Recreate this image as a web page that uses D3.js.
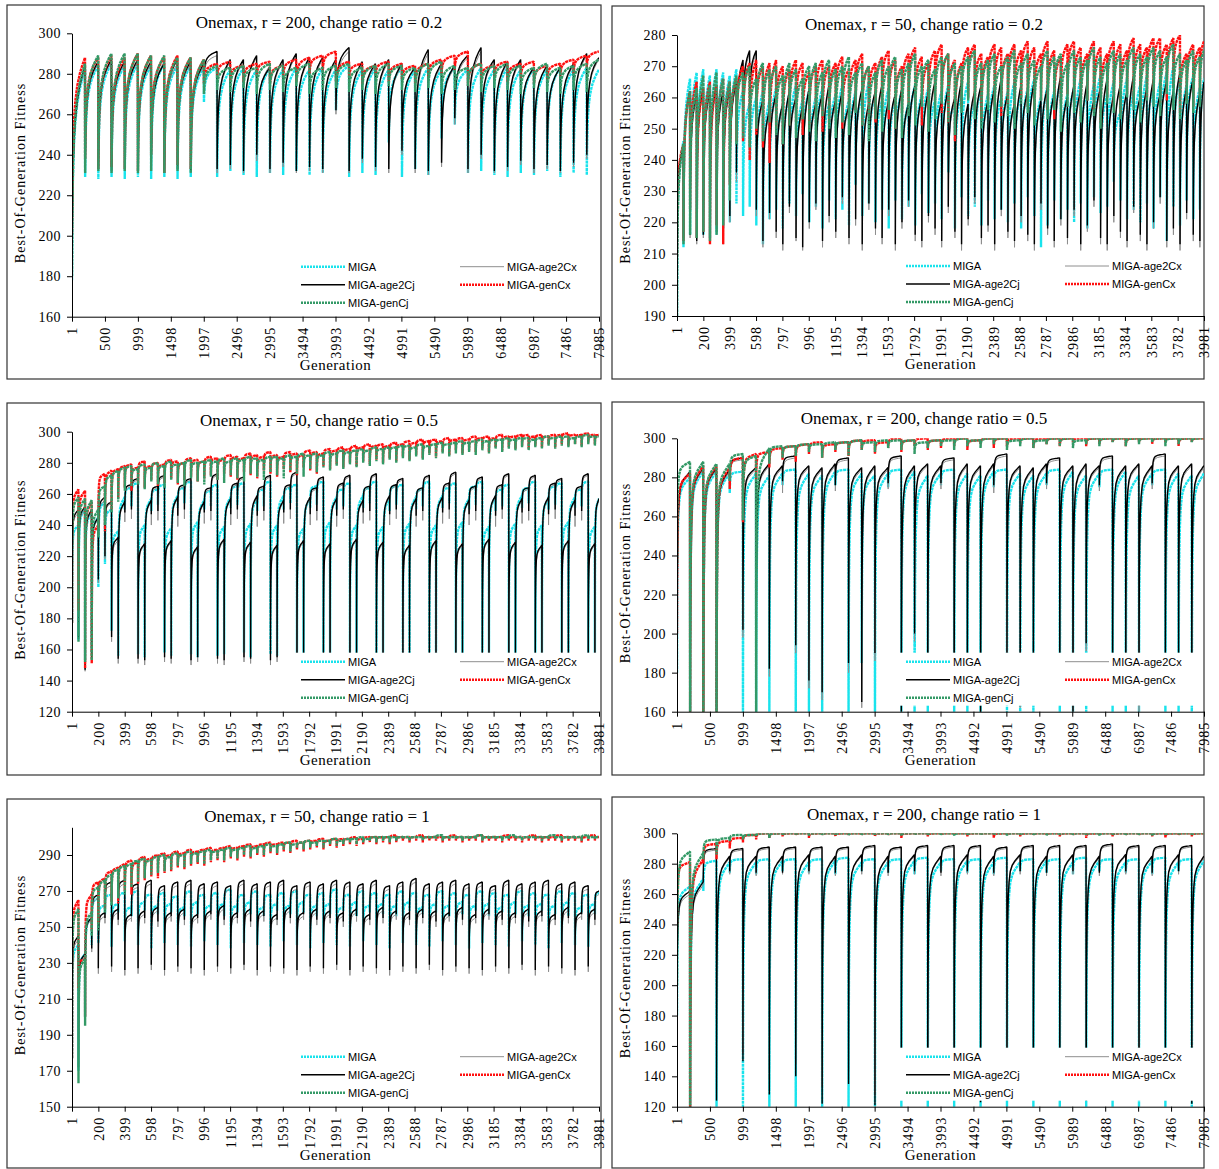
<!DOCTYPE html>
<html>
<head>
<meta charset="utf-8">
<script src="https://cdn.jsdelivr.net/npm/d3@7"></script>
<style>
html,body{margin:0;padding:0;background:#fff;}
svg{display:block;}
</style>
</head>
<body>
<svg id="fig" width="1219" height="1169"></svg>
<script>
// ---------------------------------------------------------------------------
// Best-of-generation fitness on Onemax.  Every environment change (each r
// generations) is one cycle: [fitness right after the change, fitness just
// before the next change].  Series order: MIGA, MIGA-age2Cx, MIGA-age2Cj,
// MIGA-genCx, MIGA-genCj.
// ---------------------------------------------------------------------------
const seriesNames = ["MIGA", "MIGA-age2Cx", "MIGA-age2Cj", "MIGA-genCx", "MIGA-genCj"];

// Shape of the recovery after a change: fraction of the cycle elapsed and
// fraction of the way from the post-change value to the pre-change value.
const recoveryStep      = [0, 0.01, 0.03, 0.06, 0.10, 0.16, 0.25, 0.40, 0.60, 0.80, 0.99];
const recoveryLevelFast = [0, 0.30, 0.55, 0.70, 0.80, 0.87, 0.92, 0.95, 0.97, 0.985, 1];
const recoveryLevelSlow = [0, 0.12, 0.30, 0.45, 0.56, 0.66, 0.75, 0.84, 0.91, 0.96, 1];

const genTicks200 = [1,500,999,1498,1997,2496,2995,3494,3993,4492,4991,5490,5989,6488,6987,7486,7985];
const genTicks50 = [1,200,399,598,797,996,1195,1394,1593,1792,1991,2190,2389,2588,2787,2986,3185,3384,3583,3782,3981];
const fitness160to300 = [160,180,200,220,240,260,280,300];
const fitness190to280 = [190,200,210,220,230,240,250,260,270,280];
const fitness120to300 = [120,140,160,180,200,220,240,260,280,300];
const fitness150to290 = [150,170,190,210,230,250,270,290];

// ---- r = 200, change ratio = 0.2 ----
const r200c02_MIGA = [
[178,282],[229,284],[228,285],[229,284],[228,285],[229,284],[228,285],[229,284],[228,284],[229,283],
[266,283],[229,282],[232,283],[230,282],[229,283],[231,282],[230,283],[232,282],[230,283],[231,282],
[262,284],[229,282],[231,283],[230,282],[246,283],[229,282],[233,283],[230,282],[248,283],[255,282],
[231,283],[232,282],[230,283],[229,282],[231,283],[230,282],[232,283],[229,282],[231,283],[230,282]];
const r200c02_age2Cx = [
[177,283],[231,285],[232,286],[231,285],[232,286],[231,285],[232,286],[231,285],[232,285],[231,284],
[276,289],[231,286],[233,286],[231,288],[237,284],[231,286],[234,289],[231,287],[232,287],[231,286],
[260,291],[231,285],[236,284],[232,286],[231,284],[240,283],[231,290],[230,284],[234,283],[255,288],
[231,291],[238,286],[231,285],[232,286],[235,283],[231,284],[233,283],[231,284],[234,289],[238,287]];
const r200c02_age2Cj = [
[177,284],[232,286],[233,287],[232,286],[233,287],[232,286],[233,285],[232,287],[233,286],[232,285],
[278,291],[233,287],[235,287],[232,289],[240,283],[233,287],[236,290],[232,288],[234,288],[233,287],
[262,293],[232,286],[238,285],[234,287],[233,285],[242,283],[233,292],[232,285],[236,284],[258,289],
[233,293],[240,287],[232,286],[234,287],[237,283],[233,284],[235,283],[232,285],[236,290],[240,288]];
const r200c02_genCx = [
[201,288],[238,288],[233,289],[234,288],[233,290],[232,289],[240,288],[231,289],[235,288],[233,287],
[275,285],[278,286],[277,284],[276,285],[279,286],[275,284],[278,287],[276,288],[280,289],[281,291],
[276,286],[278,285],[275,284],[279,286],[276,285],[277,284],[275,285],[278,287],[280,289],[282,291],
[274,285],[277,284],[279,286],[276,285],[278,286],[275,284],[277,285],[279,287],[280,289],[283,291]];
const r200c02_genCj = [
[180,285],[231,289],[232,290],[231,290],[232,290],[231,289],[232,289],[231,288],[232,288],[231,287],
[270,284],[272,283],[271,284],[273,283],[270,285],[272,284],[271,283],[274,285],[270,283],[272,284],
[273,285],[271,283],[272,284],[270,285],[274,284],[272,283],[271,285],[273,286],[270,284],[272,283],
[274,285],[271,284],[273,285],[272,284],[270,283],[273,285],[271,283],[270,284],[272,285],[271,287]];

// ---- r = 50, change ratio = 0.2 ----
const r50c02_MIGA = [
[190,246],[212,266],[216,268],[215,269],[216,267],[215,269],[216,268],[218,267],[220,269],[226,262],
[222,258],[225,260],[219,262],[213,259],[221,263],[224,257],[218,261],[226,264],[222,259],[229,262],
[220,260],[225,263],[218,258],[227,261],[221,264],[224,259],[219,262],[232,260],[222,265],[226,261],
[220,259],[224,263],[218,260],[227,262],[221,258],[225,264],[219,261],[229,263],[223,259],[226,262],
[221,264],[236,258],[218,262],[228,265],[222,259],[225,263],[219,261],[227,264],[221,260],[224,262],
[220,265],[226,261],[218,263],[228,266],[222,260],[212,264],[219,262],[227,265],[221,261],[224,263],
[220,266],[226,262],[218,264],[228,267],[223,261],[225,265],[233,255],[227,266],[221,262],[224,264],
[220,267],[226,263],[218,265],[228,268],[214,270],[225,266],[219,264],[227,267],[221,263],[224,266]];
const r50c02_age2Cx = [
[211,243],[214,261],[215,260],[213,262],[215,261],[214,263],[216,261],[213,262],[220,264],[233,271],
[246,274],[250,274],[222,258],[212,255],[221,260],[215,257],[211,261],[223,259],[214,256],[211,262],
[218,257],[224,260],[212,263],[220,258],[215,261],[226,256],[213,260],[219,262],[211,257],[224,261],
[216,263],[213,258],[222,260],[211,262],[218,257],[225,263],[214,259],[212,261],[220,264],[216,258],
[212,262],[223,259],[215,264],[211,257],[219,261],[226,263],[213,258],[217,262],[211,265],[222,260],
[215,257],[212,263],[220,261],[214,264],[211,258],[224,262],[216,260],[212,266],[219,259],[213,263],
[222,261],[211,264],[217,258],[225,262],[213,265],[211,260],[220,263],[215,261],[212,266],[223,259],
[214,262],[211,265],[218,260],[226,264],[212,261],[216,267],[211,262],[221,265],[214,260],[212,264]];
const r50c02_age2Cj = [
[212,244],[215,262],[216,261],[214,263],[216,262],[215,264],[217,262],[214,263],[222,265],[236,272],
[248,275],[252,275],[224,259],[214,256],[223,261],[217,258],[213,262],[225,260],[215,257],[212,263],
[220,258],[226,261],[214,264],[222,259],[217,262],[228,257],[215,261],[221,263],[213,258],[226,262],
[218,264],[215,259],[224,261],[213,263],[220,258],[227,264],[216,260],[214,262],[222,265],[218,259],
[214,263],[225,260],[217,265],[213,258],[221,262],[228,264],[215,259],[219,263],[213,266],[224,261],
[217,258],[214,264],[222,262],[216,265],[213,259],[226,263],[218,261],[214,267],[221,260],[215,264],
[224,262],[213,265],[219,259],[227,263],[215,266],[213,261],[222,264],[217,262],[214,267],[225,260],
[216,263],[213,266],[220,261],[228,265],[214,262],[218,268],[213,263],[223,266],[216,261],[214,265]];
const r50c02_genCx = [
[209,245],[214,262],[224,265],[215,263],[217,265],[213,264],[219,266],[213,265],[232,266],[246,270],
[246,271],[240,272],[248,270],[244,271],[239,272],[250,270],[245,269],[251,272],[252,271],[248,268],
[250,270],[254,272],[249,270],[252,271],[255,273],[250,269],[253,272],[256,274],[251,270],[254,271],
[252,273],[257,275],[253,272],[250,270],[255,274],[258,276],[254,273],[251,271],[256,275],[259,277],
[255,274],[252,272],[246,271],[257,276],[260,277],[256,274],[253,273],[259,277],[257,276],[254,274],
[258,277],[255,275],[260,278],[257,276],[254,274],[259,278],[256,275],[253,273],[258,277],[261,278],
[257,276],[254,274],[259,278],[256,276],[252,274],[260,278],[257,277],[255,275],[261,279],[258,277],
[256,276],[260,279],[262,279],[258,277],[259,279],[263,280],[255,274],[259,277],[257,276],[260,278]];
const r50c02_genCj = [
[190,245],[213,262],[216,263],[215,267],[217,264],[214,268],[216,266],[219,265],[227,267],[245,268],
[247,270],[244,266],[250,271],[246,269],[252,270],[248,267],[245,271],[251,269],[247,266],[253,270],
[249,271],[246,268],[254,272],[250,269],[247,270],[252,273],[248,268],[255,271],[251,270],[246,268],
[253,272],[249,270],[256,273],[250,269],[247,271],[254,274],[251,270],[257,272],[249,269],[253,273],
[258,274],[252,271],[248,270],[255,273],[259,275],[253,271],[250,272],[256,274],[252,270],[257,273],
[254,275],[250,271],[258,274],[255,272],[251,270],[259,275],[253,273],[256,274],[249,271],[257,275],
[255,273],[252,272],[259,276],[254,273],[250,271],[258,275],[255,274],[253,272],[260,276],[256,274],
[252,273],[259,276],[257,275],[254,273],[261,277],[256,274],[253,272],[258,275],[255,273],[257,275]];

// ---- r = 50, change ratio = 0.5 ----
const r50c05_MIGA = [
[178,240],[166,250],[153,248],[158,245],[200,255],[215,250],[172,236],[156,258],[250,264],[252,267],
[157,240],[155,257],[249,263],[253,266],[158,238],[156,259],[251,264],[254,268],[157,242],[155,256],
[250,262],[252,266],[156,239],[157,258],[251,265],[253,267],[158,241],[155,257],[249,263],[252,268],
[157,240],[156,259],[250,264],[254,266],[155,238],[157,257],[251,265],[253,268],[158,242],[156,258],
[250,263],[252,267],[157,240],[155,259],[251,264],[254,268],[156,239],[157,257],[249,265],[253,266],
[158,241],[156,258],[250,263],[252,268],[157,240],[155,259],[251,264],[254,267],[156,242],[157,257],
[250,265],[253,268],[158,239],[155,258],[249,263],[252,266],[157,241],[156,259],[251,264],[254,268],
[155,240],[157,257],[250,265],[253,267],[158,242],[156,258],[251,263],[252,268],[157,239],[155,257]];
const r50c05_age2Cx = [
[177,248],[166,250],[146,249],[152,244],[203,256],[218,254],[165,230],[151,254],[242,265],[244,269],
[151,227],[150,255],[240,264],[243,271],[152,229],[151,257],[239,265],[244,269],[150,225],[152,254],
[241,263],[243,272],[151,230],[150,256],[240,266],[244,270],[152,228],[151,258],[239,264],[243,271],
[150,226],[152,255],[241,265],[244,273],[151,229],[150,257],[240,263],[243,270],[152,227],[151,256],
[239,266],[244,271],[150,230],[152,255],[241,264],[243,272],[151,228],[150,258],[240,265],[244,269],
[152,226],[151,256],[239,263],[243,271],[150,229],[152,257],[241,266],[244,273],[151,227],[150,255],
[240,264],[243,270],[152,230],[151,258],[239,265],[244,272],[150,228],[152,256],[241,263],[243,271],
[151,226],[150,257],[240,266],[244,269],[152,229],[151,255],[239,264],[243,272],[150,227],[152,256]];
const r50c05_age2Cj = [
[177,250],[168,252],[147,250],[155,245],[205,258],[220,255],[168,232],[154,255],[248,266],[250,270],
[154,228],[153,256],[247,265],[249,272],[155,230],[154,258],[246,266],[250,270],[153,226],[155,255],
[248,264],[249,273],[154,231],[153,257],[247,267],[250,271],[155,229],[154,259],[246,265],[249,272],
[153,227],[155,256],[248,266],[250,274],[154,230],[153,258],[247,264],[249,271],[155,228],[154,257],
[246,267],[250,272],[153,231],[155,256],[248,265],[249,273],[154,229],[153,259],[247,266],[250,270],
[155,227],[154,257],[246,264],[249,272],[153,230],[155,258],[248,267],[250,274],[154,228],[153,256],
[247,265],[249,271],[155,231],[154,259],[246,266],[250,273],[153,229],[155,257],[248,264],[249,272],
[154,227],[153,258],[247,267],[250,270],[155,230],[154,256],[246,265],[249,273],[153,228],[155,257]];
const r50c05_genCx = [
[177,263],[185,262],[148,255],[151,240],[238,273],[236,275],[250,276],[257,278],[264,279],[262,277],
[267,281],[264,278],[269,280],[265,279],[267,282],[270,281],[266,280],[269,283],[271,282],[268,281],
[270,284],[272,283],[269,282],[273,285],[271,284],[269,283],[274,286],[272,285],[270,284],[275,287],
[273,285],[271,284],[276,287],[274,286],[272,285],[277,288],[275,287],[273,286],[278,289],[276,288],
[279,290],[277,289],[280,291],[278,290],[281,292],[279,291],[282,292],[280,291],[283,293],[281,292],
[284,294],[282,293],[285,295],[283,294],[286,295],[284,294],[287,296],[285,295],[288,296],[286,295],
[288,297],[287,296],[289,297],[287,296],[290,298],[288,297],[290,297],[289,298],[291,298],[289,297],
[291,298],[290,297],[292,298],[290,298],[292,299],[291,298],[292,298],[291,299],[293,298],[292,298]];
const r50c05_genCj = [
[177,258],[165,257],[152,256],[153,250],[232,265],[240,272],[248,275],[255,277],[262,278],[265,276],
[266,279],[263,277],[268,280],[266,278],[264,281],[269,279],[267,280],[265,282],[270,280],[268,281],
[266,282],[271,281],[269,283],[267,281],[272,283],[270,282],[268,284],[273,283],[271,282],[269,284],
[274,284],[272,283],[270,285],[275,284],[273,286],[271,285],[276,286],[274,285],[277,287],[275,286],
[278,288],[276,287],[279,288],[277,289],[280,288],[278,290],[281,289],[279,290],[282,290],[280,291],
[283,291],[281,290],[284,292],[282,291],[285,292],[283,293],[286,292],[284,293],[286,294],[285,293],
[287,294],[285,295],[288,294],[286,295],[289,295],[287,296],[289,295],[288,296],[290,296],[288,295],
[290,296],[289,297],[291,296],[289,297],[291,297],[290,296],[292,297],[290,298],[292,297],[291,297]];

// ---- r = 200, change ratio = 0.5 ----
const r200c05_MIGA = [
[180,280],[150,283],[150,283],[150,282],[272,283],[150,282],[148,281],[152,282],[276,284],[145,282],
[155,281],[140,283],[276,284],[150,282],[185,281],[145,282],[275,284],[152,283],[140,281],[156,282],
[276,284],[148,282],[150,281],[143,283],[275,284],[155,282],[146,281],[150,282],[276,284],[142,283],
[152,281],[148,282],[275,284],[150,283],[145,281],[155,282],[276,284],[148,282],[152,281],[144,282]];
const r200c05_age2Cx = [
[177,282],[150,284],[150,284],[150,283],[275,289],[198,284],[170,286],[178,285],[272,290],[190,285],
[172,284],[166,286],[273,289],[180,284],[162,285],[186,284],[274,290],[158,285],[196,286],[168,285],
[274,289],[164,286],[176,285],[155,286],[272,291],[186,285],[162,284],[171,286],[274,289],[178,285],
[157,286],[191,285],[273,290],[166,285],[181,286],[160,285],[274,291],[174,285],[186,286],[164,285]];
const r200c05_age2Cj = [
[177,283],[150,285],[150,285],[150,284],[276,290],[202,285],[175,287],[182,286],[278,291],[194,286],
[176,285],[170,287],[276,290],[185,285],[165,286],[190,285],[277,291],[160,286],[200,287],[172,286],
[277,290],[168,287],[180,286],[158,287],[276,292],[190,286],[165,285],[175,287],[277,290],[182,286],
[160,287],[195,286],[276,291],[170,286],[185,287],[163,286],[277,292],[178,286],[190,287],[168,286]];
const r200c05_genCx = [
[200,282],[150,286],[150,286],[150,285],[274,290],[257,292],[279,293],[285,295],[289,296],[288,297],
[292,298],[290,297],[293,298],[291,299],[294,299],[292,298],[295,300],[293,299],[296,300],[294,299],
[295,300],[296,300],[294,299],[297,300],[295,300],[296,300],[298,300],[295,300],[297,300],[296,300],
[298,300],[296,300],[297,300],[298,300],[296,300],[298,300],[297,300],[298,300],[296,300],[298,300]];
const r200c05_genCj = [
[236,288],[150,288],[150,287],[150,287],[278,292],[258,291],[150,295],[287,296],[290,296],[291,297],
[293,297],[290,298],[294,298],[291,299],[294,298],[293,299],[295,299],[294,299],[292,298],[295,299],
[296,299],[294,300],[296,299],[295,300],[297,300],[294,299],[296,300],[295,299],[297,300],[296,300],
[295,299],[297,300],[296,300],[298,300],[296,300],[297,300],[298,300],[296,300],[297,300],[298,300]];

// ---- r = 50, change ratio = 1 ----
const r50c1_MIGA = [
[177,240],[170,235],[200,255],[240,266],[241,262],[257,268],[239,263],[258,269],[242,261],[256,270],
[240,264],[259,268],[238,262],[257,269],[241,263],[258,267],[240,261],[256,270],[239,264],[257,268],
[242,262],[259,269],[240,263],[256,271],[238,262],[258,268],[241,264],[257,270],[240,261],[256,268],
[239,263],[259,269],[242,262],[257,270],[240,264],[258,268],[238,262],[256,269],[241,263],[257,271],
[240,261],[259,268],[239,264],[256,270],[242,262],[258,269],[240,263],[257,268],[238,262],[256,270],
[241,264],[259,269],[240,261],[257,268],[239,263],[258,270],[242,262],[256,269],[240,264],[257,268],
[238,262],[259,270],[241,263],[256,269],[240,261],[258,268],[239,264],[257,270],[242,262],[256,269],
[240,263],[259,268],[238,262],[257,270],[241,264],[256,269],[240,261],[258,268],[239,263],[257,269]];
const r50c1_age2Cx = [
[177,243],[170,234],[203,254],[236,266],[224,256],[252,273],[225,258],[251,274],[223,255],[253,272],
[224,257],[252,274],[226,259],[250,271],[223,256],[253,273],[225,258],[251,274],[224,255],[252,272],
[223,257],[254,273],[225,260],[251,271],[224,256],[252,274],[226,258],[250,272],[223,257],[253,273],
[225,255],[251,274],[224,259],[252,271],[223,256],[254,273],[225,258],[251,272],[224,257],[252,274],
[226,256],[250,273],[223,258],[253,272],[225,255],[251,274],[224,259],[252,271],[223,257],[254,273],
[225,256],[251,275],[224,258],[252,272],[226,257],[250,273],[223,256],[253,274],[225,259],[251,272],
[224,255],[252,273],[223,258],[254,271],[225,257],[251,274],[224,256],[252,272],[226,258],[250,273],
[223,257],[253,274],[225,255],[251,272],[224,259],[252,273],[223,256],[254,271],[225,258],[251,268]];
const r50c1_age2Cj = [
[177,245],[172,235],[205,255],[238,268],[227,258],[255,275],[228,260],[254,276],[226,257],[256,274],
[227,259],[255,276],[229,261],[253,273],[226,258],[256,275],[228,260],[254,276],[227,257],[255,274],
[226,259],[257,275],[228,262],[254,273],[227,258],[255,276],[229,260],[253,274],[226,259],[256,275],
[228,257],[254,276],[227,261],[255,273],[226,258],[257,275],[228,260],[254,274],[227,259],[255,276],
[229,258],[253,275],[226,260],[256,274],[228,257],[254,276],[227,261],[255,273],[226,259],[257,275],
[228,258],[254,277],[227,260],[255,274],[229,259],[253,275],[226,258],[256,276],[228,261],[254,274],
[227,257],[255,275],[226,260],[257,273],[228,259],[254,276],[227,258],[255,274],[229,260],[253,275],
[226,259],[256,276],[228,257],[254,274],[227,261],[255,275],[226,258],[257,273],[228,260],[254,270]];
const r50c1_genCx = [
[177,265],[216,232],[200,268],[248,275],[252,277],[260,281],[264,283],[263,285],[270,287],[268,286],
[274,289],[276,288],[278,290],[277,291],[280,290],[281,292],[283,291],[282,293],[284,292],[285,293],
[284,294],[286,293],[287,294],[286,295],[288,294],[287,295],[289,296],[288,295],[290,296],[289,297],
[291,296],[290,297],[292,297],[291,298],[293,297],[292,298],[293,298],[294,299],[293,298],[295,299],
[294,299],[295,299],[296,300],[295,299],[296,300],[297,300],[296,300],[297,300],[296,301],[297,300],
[298,300],[297,300],[298,301],[297,300],[298,300],[298,300],[297,300],[298,301],[298,300],[297,300],
[298,300],[298,301],[297,300],[298,300],[298,300],[297,301],[298,300],[298,300],[297,300],[298,301],
[298,300],[297,300],[298,300],[298,301],[297,300],[298,300],[298,300],[297,300],[298,301],[298,300]];
const r50c1_genCj = [
[177,260],[163,232],[195,258],[245,272],[248,276],[258,279],[262,282],[266,284],[268,285],[272,287],
[275,288],[277,287],[279,289],[280,290],[281,289],[282,291],[284,290],[283,292],[285,291],[286,292],
[285,293],[287,292],[288,293],[287,294],[289,293],[288,294],[290,295],[289,294],[291,295],[290,296],
[292,295],[291,296],[293,297],[292,296],[294,297],[293,298],[294,297],[295,298],[294,298],[296,299],
[295,298],[296,299],[297,299],[296,300],[297,299],[298,300],[297,300],[298,300],[297,300],[298,300],
[299,300],[298,300],[299,300],[298,300],[299,300],[299,301],[298,300],[299,300],[299,300],[298,300],
[299,300],[299,301],[298,300],[299,300],[299,300],[298,300],[299,301],[299,300],[298,300],[299,300],
[299,300],[298,300],[299,301],[299,300],[298,300],[299,300],[299,300],[298,301],[299,300],[299,300]];

// ---- r = 200, change ratio = 1 ----
const r200c1_MIGA = [
[180,265],[100,270],[262,282],[110,281],[274,283],[112,281],[273,283],[108,282],[275,283],[115,281],
[274,283],[110,282],[273,284],[112,281],[275,283],[108,281],[274,283],[115,282],[273,284],[110,281],
[275,283],[112,282],[274,283],[108,281],[273,284],[115,281],[275,283],[110,282],[274,283],[112,281],
[273,284],[108,282],[275,283],[115,281],[274,283],[110,282],[273,284],[112,281],[275,283],[108,282]];
const r200c1_age2Cx = [
[177,260],[100,266],[273,289],[125,284],[273,289],[155,284],[272,290],[138,284],[273,290],[148,285],
[273,290],[133,284],[272,290],[143,285],[273,291],[128,284],[272,290],[150,285],[273,291],[136,284],
[272,291],[146,285],[273,291],[130,284],[272,290],[153,285],[273,291],[138,284],[272,291],[143,285],
[273,291],[133,284],[272,292],[156,285],[273,291],[140,284],[272,291],[148,285],[273,291],[128,284]];
const r200c1_age2Cj = [
[177,262],[100,268],[275,290],[124,285],[275,290],[150,285],[274,291],[128,285],[274,291],[140,286],
[275,291],[122,285],[274,291],[135,286],[275,292],[121,285],[274,291],[145,286],[275,292],[126,285],
[274,292],[138,286],[275,292],[123,285],[274,291],[148,286],[275,292],[130,285],[274,292],[136,286],
[275,292],[124,285],[274,293],[152,286],[275,292],[132,285],[274,292],[142,286],[275,292],[122,285]];
const r200c1_genCx = [
[240,281],[100,283],[280,293],[283,295],[290,297],[294,299],[296,300],[297,300],[298,300],[299,300],
[297,300],[299,300],[298,300],[299,300],[299,300],[298,300],[299,300],[297,300],[299,300],[298,300],
[299,300],[299,300],[298,300],[299,300],[297,300],[299,300],[298,300],[299,300],[299,300],[298,300],
[299,300],[297,300],[299,300],[298,300],[299,300],[299,300],[298,300],[297,300],[299,300],[298,300]];
const r200c1_genCj = [
[200,288],[100,287],[283,296],[286,297],[295,299],[296,299],[298,300],[297,300],[299,300],[299,300],
[298.5,300],[299,300],[299,300],[298.5,300],[299,300],[299,300],[299,300],[298.5,300],[299,300],[299,300],
[299,300],[298.5,300],[299,300],[299,300],[299,300],[298.5,300],[299,300],[299,300],[298.5,300],[299,300],
[299,300],[299,300],[298.5,300],[299,300],[299,300],[299,300],[298.5,300],[299,300],[299,300],[299,300]];

// ---------------------------------------------------------------------------
// Layout and styling
// ---------------------------------------------------------------------------
const seriesStyle = [
  { color: "#19e3ec", width: 2.4, dash: "3 0.7" },   // MIGA
  { color: "#8e8e8e", width: 1.0, dash: null },      // MIGA-age2Cx
  { color: "#000000", width: 1.4, dash: null },      // MIGA-age2Cj
  { color: "#ff1010", width: 2.4, dash: "3 0.7" },   // MIGA-genCx
  { color: "#339966", width: 2.4, dash: "3 0.7" }    // MIGA-genCj
];
const legendDash = "2 1";

const panels = [
  { title: "Onemax, r = 200, change ratio = 0.2", period: 200, lastGen: 7985, xTicks: genTicks200,
    yDomain: [160, 300], yTicks: fitness160to300, recovery: recoveryLevelSlow,
    series: [r200c02_MIGA, r200c02_age2Cx, r200c02_age2Cj, r200c02_genCx, r200c02_genCj],
    box: { x: 7, y: 5, w: 594, h: 374 }, plot: { l: 72, r: 599, t: 33.3, b: 316.7 }, titleX: 319, titleY: 28 },
  { title: "Onemax, r = 50, change ratio = 0.2", period: 50, lastGen: 3981, xTicks: genTicks50,
    yDomain: [190, 280], yTicks: fitness190to280, recovery: recoveryLevelSlow,
    series: [r50c02_MIGA, r50c02_age2Cx, r50c02_age2Cj, r50c02_genCx, r50c02_genCj],
    box: { x: 612, y: 6, w: 592, h: 373 }, plot: { l: 677, r: 1204, t: 35, b: 316 }, titleX: 924, titleY: 30 },
  { title: "Onemax, r = 50, change ratio = 0.5", period: 50, lastGen: 3981, xTicks: genTicks50,
    yDomain: [120, 300], yTicks: fitness120to300, recovery: recoveryLevelFast,
    series: [r50c05_MIGA, r50c05_age2Cx, r50c05_age2Cj, r50c05_genCx, r50c05_genCj],
    box: { x: 7, y: 403, w: 594, h: 372 }, plot: { l: 72, r: 599, t: 431.7, b: 711.7 }, titleX: 319, titleY: 425.7 },
  { title: "Onemax, r = 200, change ratio = 0.5", period: 200, lastGen: 7985, xTicks: genTicks200,
    yDomain: [160, 300], yTicks: fitness160to300, recovery: recoveryLevelFast,
    series: [r200c05_MIGA, r200c05_age2Cx, r200c05_age2Cj, r200c05_genCx, r200c05_genCj],
    box: { x: 612, y: 402, w: 592, h: 373 }, plot: { l: 677, r: 1204, t: 438.3, b: 711.7 }, titleX: 924, titleY: 424 },
  { title: "Onemax, r = 50, change ratio = 1", period: 50, lastGen: 3981, xTicks: genTicks50,
    yDomain: [150, 305.4], yTicks: fitness150to290, recovery: recoveryLevelFast,
    series: [r50c1_MIGA, r50c1_age2Cx, r50c1_age2Cj, r50c1_genCx, r50c1_genCj],
    box: { x: 7, y: 799, w: 594, h: 369 }, plot: { l: 72, r: 599, t: 827.3, b: 1106.7 }, titleX: 317, titleY: 821.7 },
  { title: "Onemax, r = 200, change ratio = 1", period: 200, lastGen: 7985, xTicks: genTicks200,
    yDomain: [120, 300], yTicks: fitness120to300, recovery: recoveryLevelFast,
    series: [r200c1_MIGA, r200c1_age2Cx, r200c1_age2Cj, r200c1_genCx, r200c1_genCj],
    box: { x: 612, y: 797, w: 592, h: 371 }, plot: { l: 677, r: 1204, t: 833.3, b: 1106.7 }, titleX: 924, titleY: 820 }
];

// legend slots: [column, row] for each series
const legendSlot = [[0, 0], [1, 0], [0, 1], [1, 1], [0, 2]];

// Expand the per-change cycle values into generation/fitness points.
function cyclePoints(pairs, period, lastGen, level) {
  const pts = [];
  pairs.forEach(([lo, hi], k) => {
    const g0 = k === 0 ? 1 : k * period;
    const g1 = Math.min((k + 1) * period, lastGen);
    recoveryStep.forEach((s, i) => {
      pts.push([g0 + s * (g1 - g0), lo + level[i] * (hi - lo)]);
    });
  });
  return pts;
}

const serif = "'Liberation Serif', 'Times New Roman', serif";
const sans = "'Liberation Sans', Arial, sans-serif";
const svg = d3.select("#fig");
const defs = svg.append("defs");

panels.forEach((p, pi) => {
  const g = svg.append("g");
  const { l, r, t, b } = p.plot;

  g.append("rect")
    .attr("x", p.box.x).attr("y", p.box.y)
    .attr("width", p.box.w).attr("height", p.box.h)
    .attr("fill", "#fff").attr("stroke", "#333").attr("stroke-width", 1.2);

  const x = d3.scaleLinear().domain([1, p.lastGen]).range([l, r]);
  const y = d3.scaleLinear().domain(p.yDomain).range([b, t]);

  defs.append("clipPath").attr("id", "plotclip" + pi)
    .append("rect").attr("x", l).attr("y", t).attr("width", r - l).attr("height", b - t);

  const line = d3.line().x(d => x(d[0])).y(d => y(d[1]));
  const lines = g.append("g").attr("clip-path", `url(#plotclip${pi})`);
  p.series.forEach((pairs, si) => {
    const st = seriesStyle[si];
    lines.append("path")
      .datum(cyclePoints(pairs, p.period, p.lastGen, p.recovery))
      .attr("d", line)
      .attr("fill", "none")
      .attr("stroke", st.color)
      .attr("stroke-width", st.width)
      .attr("stroke-dasharray", st.dash)
      .attr("stroke-linejoin", "bevel");
  });

  // legend (white box over the lower plot area)
  const lg = g.append("g");
  lg.append("rect").attr("x", l + 221).attr("y", b - 59).attr("width", 304).attr("height", 53).attr("fill", "#fff");
  seriesNames.forEach((name, si) => {
    const [col, row] = legendSlot[si];
    const x0 = l + (col === 0 ? 229 : 388);
    const yy = b - 50 + row * 18;
    const st = seriesStyle[si];
    lg.append("line").attr("x1", x0).attr("x2", x0 + 44).attr("y1", yy).attr("y2", yy)
      .attr("stroke", st.color).attr("stroke-width", st.width)
      .attr("stroke-dasharray", st.dash ? legendDash : null);
    lg.append("text").attr("x", x0 + 47).attr("y", yy).attr("dy", "0.35em")
      .attr("font-family", sans).attr("font-size", 11).attr("fill", "#000").text(name);
  });

  // axes
  const yAxis = g.append("g").attr("transform", `translate(${l},0)`)
    .call(d3.axisLeft(y).tickValues(p.yTicks).tickSize(5).tickSizeOuter(0).tickPadding(6).tickFormat(d3.format("d")));
  yAxis.selectAll("text").attr("font-family", serif).attr("font-size", 14).attr("letter-spacing", 0.5).attr("fill", "#000");

  const xAxis = g.append("g").attr("transform", `translate(0,${b})`)
    .call(d3.axisBottom(x).tickValues(p.xTicks).tickSize(5).tickSizeOuter(0).tickFormat(d3.format("d")));
  xAxis.selectAll("text")
    .attr("transform", "rotate(-90)")
    .attr("text-anchor", "end")
    .attr("x", -10).attr("y", 0).attr("dy", "0.35em")
    .attr("font-family", serif).attr("font-size", 14).attr("letter-spacing", 1).attr("fill", "#000");
  g.selectAll(".domain, .tick line").attr("stroke", "#000");

  // titles
  g.append("text").attr("x", p.titleX).attr("y", p.titleY).attr("text-anchor", "middle")
    .attr("font-family", serif).attr("font-size", 17).attr("fill", "#000").text(p.title);
  g.append("text").attr("x", (l + r) / 2).attr("y", b + 53).attr("text-anchor", "middle")
    .attr("font-family", serif).attr("font-size", 15).attr("letter-spacing", 0.5).attr("fill", "#000").text("Generation");
  g.append("text")
    .attr("transform", `translate(${p.box.x + 18},${(t + b) / 2 - 2}) rotate(-90)`)
    .attr("text-anchor", "middle")
    .attr("font-family", serif).attr("font-size", 14).attr("letter-spacing", 1).attr("fill", "#000")
    .text("Best-Of-Generation Fitness");
});
</script>
</body>
</html>
